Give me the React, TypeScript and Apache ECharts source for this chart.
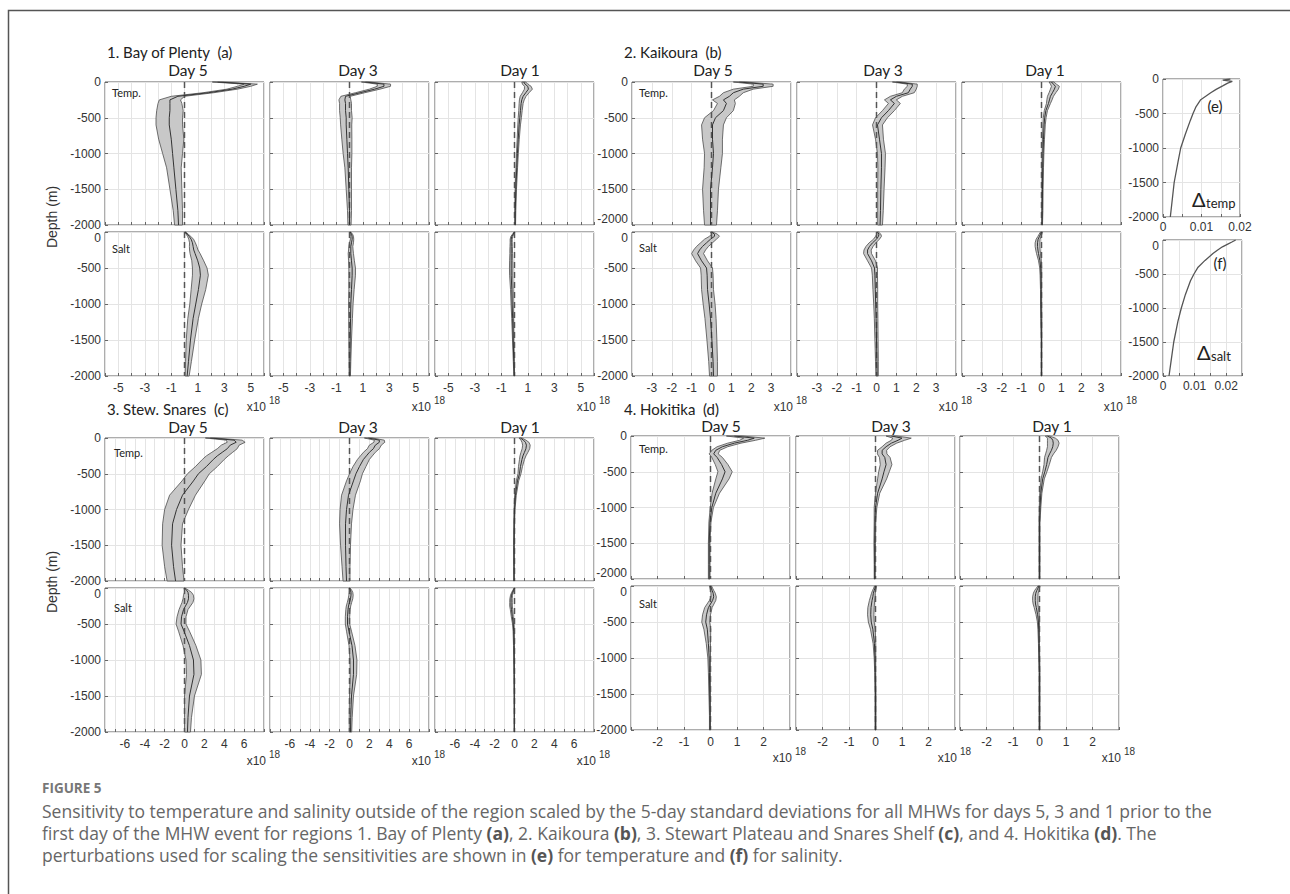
import React, { useEffect, useRef } from 'react';
import * as echarts from 'echarts';

// ---------- data ----------
const DEPTH = [0, -30, -60, -100, -150, -200, -250, -300, -400, -500, -600, -800, -1000, -1200, -1500, -1800, -2000];
const DEPTH_TICKS = [0, -500, -1000, -1500, -2000];

// Region 1: Bay of Plenty
const R1_TEMP_D5_MEAN = [2.5, 5.0, 4.5, 3.6, 1.8, -0.5, -1.1, -1.1, -1.1, -1.15, -1.15, -1.0, -0.9, -0.8, -0.65, -0.5, -0.45];
const R1_TEMP_D5_SPREAD = [0.4, 0.5, 0.5, 0.4, 0.4, 0.5, 0.8, 0.9, 1.0, 1.0, 1.0, 0.95, 0.75, 0.55, 0.45, 0.35, 0.3];
const R1_TEMP_D3_MEAN = [1.2, 2.6, 2.6, 1.9, 0.8, -0.3, -0.35, -0.3, -0.3, -0.25, -0.25, -0.2, -0.15, -0.1, -0.05, 0, 0];
const R1_TEMP_D3_SPREAD = [0.3, 0.5, 0.5, 0.4, 0.35, 0.35, 0.45, 0.45, 0.45, 0.45, 0.42, 0.38, 0.33, 0.25, 0.2, 0.15, 0.12];
const R1_TEMP_D1_MEAN = [0.7, 0.8, 1.0, 1.05, 0.85, 0.65, 0.55, 0.5, 0.45, 0.4, 0.35, 0.28, 0.22, 0.17, 0.1, 0.06, 0.05];
const R1_TEMP_D1_SPREAD = [0.15, 0.2, 0.25, 0.3, 0.25, 0.22, 0.18, 0.15, 0.13, 0.12, 0.1, 0.08, 0.07, 0.06, 0.05, 0.04, 0.03];
const R1_SALT_D5_MEAN = [0.05, 0.2, 0.35, 0.5, 0.6, 0.65, 0.7, 0.8, 1.0, 1.15, 1.2, 1.05, 0.85, 0.65, 0.45, 0.3, 0.2];
const R1_SALT_D5_SPREAD = [0.05, 0.08, 0.12, 0.18, 0.22, 0.28, 0.32, 0.38, 0.45, 0.55, 0.6, 0.55, 0.45, 0.4, 0.32, 0.22, 0.15];
const R1_SALT_D3_MEAN = [0.05, 0.15, 0.2, 0.2, 0.15, 0.1, 0.1, 0.1, 0.15, 0.2, 0.2, 0.15, 0.1, 0.08, 0.05, 0.03, 0.02];
const R1_SALT_D3_SPREAD = [0.05, 0.08, 0.1, 0.12, 0.15, 0.15, 0.17, 0.2, 0.22, 0.25, 0.25, 0.2, 0.17, 0.14, 0.1, 0.07, 0.05];
const R1_SALT_D1_MEAN = [0, -0.1, -0.2, -0.25, -0.25, -0.25, -0.25, -0.25, -0.25, -0.25, -0.25, -0.2, -0.18, -0.14, -0.1, -0.05, -0.02];
const R1_SALT_D1_SPREAD = [0.03, 0.05, 0.07, 0.08, 0.08, 0.09, 0.1, 0.1, 0.12, 0.13, 0.12, 0.1, 0.08, 0.07, 0.05, 0.04, 0.03];

// Region 2: Kaikoura
const R2_TEMP_D5_MEAN = [1.4, 2.6, 2.6, 1.6, 1.1, 0.9, 0.6, 0.75, 0.6, 0.2, 0.05, 0.05, 0.1, 0.05, -0.05, -0.05, -0.05];
const R2_TEMP_D5_SPREAD = [0.3, 0.5, 0.5, 0.5, 0.5, 0.5, 0.55, 0.45, 0.5, 0.55, 0.55, 0.5, 0.45, 0.42, 0.4, 0.35, 0.3];
const R2_TEMP_D3_MEAN = [1.0, 1.8, 1.8, 1.7, 1.6, 1.0, 0.7, 0.9, 0.6, 0.25, 0.05, 0.15, 0.25, 0.25, 0.22, 0.2, 0.18];
const R2_TEMP_D3_SPREAD = [0.2, 0.25, 0.25, 0.3, 0.3, 0.3, 0.3, 0.3, 0.3, 0.3, 0.25, 0.2, 0.2, 0.18, 0.16, 0.14, 0.12];
const R2_TEMP_D1_MEAN = [0.5, 0.6, 0.7, 0.65, 0.55, 0.45, 0.4, 0.35, 0.22, 0.16, 0.13, 0.1, 0.08, 0.06, 0.05, 0.04, 0.03];
const R2_TEMP_D1_SPREAD = [0.12, 0.15, 0.2, 0.2, 0.17, 0.15, 0.13, 0.1, 0.08, 0.07, 0.06, 0.05, 0.04, 0.04, 0.03, 0.03, 0.02];
const R2_SALT_D5_MEAN = [0, 0.15, 0.15, -0.05, -0.25, -0.45, -0.6, -0.7, -0.5, -0.25, -0.22, -0.2, -0.12, -0.05, 0.02, 0.08, 0.1];
const R2_SALT_D5_SPREAD = [0.05, 0.15, 0.25, 0.3, 0.3, 0.3, 0.3, 0.3, 0.3, 0.3, 0.3, 0.3, 0.3, 0.28, 0.25, 0.22, 0.2];
const R2_SALT_D3_MEAN = [0.05, 0.12, 0.1, 0, -0.2, -0.35, -0.45, -0.45, -0.25, -0.1, -0.08, -0.06, -0.04, -0.02, 0, 0.02, 0.03];
const R2_SALT_D3_SPREAD = [0.05, 0.1, 0.15, 0.15, 0.17, 0.18, 0.18, 0.2, 0.2, 0.15, 0.13, 0.12, 0.1, 0.09, 0.08, 0.07, 0.06];
const R2_SALT_D1_MEAN = [0, -0.05, -0.1, -0.17, -0.2, -0.2, -0.18, -0.15, -0.08, -0.04, -0.03, -0.02, -0.02, -0.01, 0, 0, 0];
const R2_SALT_D1_SPREAD = [0.05, 0.07, 0.08, 0.1, 0.12, 0.12, 0.11, 0.1, 0.07, 0.05, 0.04, 0.03, 0.03, 0.03, 0.02, 0.02, 0.02];

// Region 3: Stewart Plateau and Snares Shelf
const R3_TEMP_D5_MEAN = [2.6, 5.0, 5.2, 4.6, 4.3, 3.8, 3.3, 2.9, 2.2, 1.4, 0.9, -0.2, -0.8, -1.2, -1.3, -1.1, -0.9];
const R3_TEMP_D5_SPREAD = [0.5, 0.8, 0.9, 0.9, 1.0, 1.05, 1.1, 1.1, 1.1, 1.1, 1.15, 1.3, 1.2, 1.0, 0.95, 0.9, 0.85];
const R3_TEMP_D3_MEAN = [1.9, 3.0, 3.0, 2.6, 2.4, 2.0, 1.7, 1.4, 1.0, 0.65, 0.4, -0.1, -0.3, -0.4, -0.4, -0.35, -0.3];
const R3_TEMP_D3_SPREAD = [0.4, 0.5, 0.55, 0.6, 0.6, 0.6, 0.6, 0.6, 0.65, 0.65, 0.7, 0.7, 0.65, 0.6, 0.5, 0.4, 0.35];
const R3_TEMP_D1_MEAN = [0.6, 0.9, 1.1, 1.2, 1.15, 1.0, 0.85, 0.75, 0.6, 0.5, 0.3, 0.1, 0, -0.03, -0.05, -0.05, -0.05];
const R3_TEMP_D1_SPREAD = [0.15, 0.25, 0.35, 0.38, 0.38, 0.35, 0.3, 0.25, 0.2, 0.15, 0.12, 0.08, 0.05, 0.04, 0.04, 0.03, 0.03];
const R3_SALT_D5_MEAN = [0, 0.2, 0.35, 0.4, 0.4, 0.3, 0.1, -0.1, -0.3, -0.35, -0.05, 0.5, 0.9, 0.95, 0.5, 0.35, 0.3];
const R3_SALT_D5_SPREAD = [0.05, 0.2, 0.35, 0.5, 0.55, 0.55, 0.5, 0.45, 0.45, 0.5, 0.55, 0.65, 0.75, 0.75, 0.5, 0.35, 0.3];
const R3_SALT_D3_MEAN = [0, 0.1, 0.15, 0.15, 0.1, 0, -0.1, -0.15, -0.2, -0.2, -0.05, 0.25, 0.4, 0.4, 0.2, 0.12, 0.1];
const R3_SALT_D3_SPREAD = [0.05, 0.12, 0.18, 0.22, 0.23, 0.22, 0.22, 0.22, 0.22, 0.22, 0.25, 0.3, 0.35, 0.32, 0.2, 0.15, 0.12];
const R3_SALT_D1_MEAN = [0, -0.1, -0.2, -0.3, -0.35, -0.35, -0.35, -0.3, -0.22, -0.12, -0.08, -0.05, -0.04, -0.03, -0.02, -0.02, -0.02];
const R3_SALT_D1_SPREAD = [0.04, 0.06, 0.08, 0.1, 0.12, 0.13, 0.13, 0.12, 0.1, 0.08, 0.06, 0.05, 0.04, 0.03, 0.03, 0.02, 0.02];

// Region 4: Hokitika
const R4_TEMP_D5_MEAN = [0.9, 1.65, 1.4, 0.9, 0.45, 0.2, 0.12, 0.25, 0.42, 0.55, 0.45, 0.2, 0.05, -0.02, -0.05, -0.05, -0.05];
const R4_TEMP_D5_SPREAD = [0.3, 0.4, 0.3, 0.25, 0.2, 0.15, 0.17, 0.2, 0.24, 0.27, 0.25, 0.14, 0.06, 0.04, 0.03, 0.03, 0.03];
const R4_TEMP_D3_MEAN = [0.6, 1.0, 0.85, 0.6, 0.4, 0.25, 0.25, 0.35, 0.4, 0.32, 0.25, 0.08, 0, -0.02, -0.03, -0.03, -0.03];
const R4_TEMP_D3_SPREAD = [0.2, 0.35, 0.25, 0.2, 0.15, 0.17, 0.18, 0.2, 0.22, 0.2, 0.17, 0.08, 0.05, 0.03, 0.03, 0.02, 0.02];
const R4_TEMP_D1_MEAN = [0.3, 0.45, 0.5, 0.52, 0.5, 0.45, 0.38, 0.32, 0.27, 0.2, 0.12, 0.05, 0.02, 0, 0, 0, 0];
const R4_TEMP_D1_SPREAD = [0.08, 0.15, 0.2, 0.22, 0.2, 0.18, 0.15, 0.13, 0.1, 0.08, 0.06, 0.04, 0.03, 0.02, 0.02, 0.02, 0.02];
const R4_SALT_D5_MEAN = [0, 0.03, 0.06, 0.1, 0.12, 0.08, 0, -0.08, -0.15, -0.18, -0.12, -0.08, -0.05, -0.04, -0.03, -0.02, -0.02];
const R4_SALT_D5_SPREAD = [0.04, 0.05, 0.06, 0.08, 0.1, 0.12, 0.13, 0.14, 0.15, 0.15, 0.13, 0.08, 0.05, 0.04, 0.03, 0.02, 0.02];
const R4_SALT_D3_MEAN = [0, -0.02, -0.05, -0.08, -0.1, -0.13, -0.15, -0.17, -0.18, -0.16, -0.1, -0.04, -0.02, -0.01, 0, 0, 0];
const R4_SALT_D3_SPREAD = [0.04, 0.05, 0.06, 0.07, 0.09, 0.1, 0.11, 0.12, 0.12, 0.11, 0.09, 0.05, 0.03, 0.02, 0.02, 0.02, 0.02];
const R4_SALT_D1_MEAN = [-0.02, -0.06, -0.1, -0.14, -0.16, -0.16, -0.15, -0.12, -0.07, -0.04, -0.03, -0.02, -0.01, 0, 0, 0, 0];
const R4_SALT_D1_SPREAD = [0.04, 0.06, 0.08, 0.09, 0.1, 0.1, 0.09, 0.08, 0.06, 0.04, 0.03, 0.02, 0.02, 0.02, 0.02, 0.02, 0.02];

// Perturbation profiles (e) temperature, (f) salinity
const E_DEPTH = [0, -15, -35, -60, -100, -150, -200, -300, -400, -500, -600, -800, -1000, -1200, -1500, -1800, -2000];
const E_TEMP = [0.0175, 0.0155, 0.018, 0.0168, 0.0155, 0.0138, 0.0124, 0.0098, 0.0086, 0.0078, 0.0071, 0.0058, 0.0046, 0.0039, 0.0029, 0.0023, 0.0019];
const F_DEPTH = [0, -30, -60, -100, -150, -200, -300, -400, -500, -600, -800, -1000, -1200, -1500, -1800, -2000];
const F_SALT = [0.023, 0.0218, 0.0205, 0.0188, 0.0172, 0.0158, 0.0133, 0.0111, 0.0098, 0.0087, 0.0071, 0.0058, 0.0047, 0.0034, 0.0025, 0.0019];
const E_XLABELS = [0, 0.01, 0.02];

const DAYS = ['Day 5', 'Day 3', 'Day 1'];
const REGION_TITLES = ['1. Bay of Plenty  (a)', '2. Kaikoura  (b)', '3. Stew. Snares  (c)', '4. Hokitika  (d)'];
const REGION_XRANGE = [[-6, 6], [-4, 4], [-8, 8], [-3, 3]];
const REGION_XLABELS = [[-5, -3, -1, 1, 3, 5], [-3, -2, -1, 0, 1, 2, 3], [-6, -4, -2, 0, 2, 4, 6], [-2, -1, 0, 1, 2]];

const REGION_DATA = [
  {
    temp: [[R1_TEMP_D5_MEAN, R1_TEMP_D5_SPREAD], [R1_TEMP_D3_MEAN, R1_TEMP_D3_SPREAD], [R1_TEMP_D1_MEAN, R1_TEMP_D1_SPREAD]],
    salt: [[R1_SALT_D5_MEAN, R1_SALT_D5_SPREAD], [R1_SALT_D3_MEAN, R1_SALT_D3_SPREAD], [R1_SALT_D1_MEAN, R1_SALT_D1_SPREAD]],
  },
  {
    temp: [[R2_TEMP_D5_MEAN, R2_TEMP_D5_SPREAD], [R2_TEMP_D3_MEAN, R2_TEMP_D3_SPREAD], [R2_TEMP_D1_MEAN, R2_TEMP_D1_SPREAD]],
    salt: [[R2_SALT_D5_MEAN, R2_SALT_D5_SPREAD], [R2_SALT_D3_MEAN, R2_SALT_D3_SPREAD], [R2_SALT_D1_MEAN, R2_SALT_D1_SPREAD]],
  },
  {
    temp: [[R3_TEMP_D5_MEAN, R3_TEMP_D5_SPREAD], [R3_TEMP_D3_MEAN, R3_TEMP_D3_SPREAD], [R3_TEMP_D1_MEAN, R3_TEMP_D1_SPREAD]],
    salt: [[R3_SALT_D5_MEAN, R3_SALT_D5_SPREAD], [R3_SALT_D3_MEAN, R3_SALT_D3_SPREAD], [R3_SALT_D1_MEAN, R3_SALT_D1_SPREAD]],
  },
  {
    temp: [[R4_TEMP_D5_MEAN, R4_TEMP_D5_SPREAD], [R4_TEMP_D3_MEAN, R4_TEMP_D3_SPREAD], [R4_TEMP_D1_MEAN, R4_TEMP_D1_SPREAD]],
    salt: [[R4_SALT_D5_MEAN, R4_SALT_D5_SPREAD], [R4_SALT_D3_MEAN, R4_SALT_D3_SPREAD], [R4_SALT_D1_MEAN, R4_SALT_D1_SPREAD]],
  },
];

// ---------- layout (pixels) ----------
const LAYOUT = [
  { left: [105, 270, 435], tempTop: 82, saltTop: 232, titleX: 107, titleY: 52, dayY: 70, dayX: [188, 358, 520], labelX: 112, tempLblY: 92, saltLblY: 248, expY: 407, tempMin: 'middle', saltMax: 'top' },
  { left: [632, 797, 962], tempTop: 82, saltTop: 232, titleX: 624, titleY: 52, dayY: 70, dayX: [713, 883, 1045], labelX: 639, tempLblY: 92, saltLblY: 247, expY: 407, tempMin: 'bottom', saltMax: 'top' },
  { left: [105, 270, 435], tempTop: 438, saltTop: 588, titleX: 107, titleY: 409, dayY: 427, dayX: [188, 358, 520], labelX: 114, tempLblY: 452, saltLblY: 607, expY: 761, tempMin: 'middle', saltMax: 'top' },
  { left: [631, 796, 960], tempTop: 436, saltTop: 586, titleX: 624, titleY: 409, dayY: 426, dayX: [721, 891, 1052], labelX: 639, tempLblY: 448, saltLblY: 603, expY: 758, tempMin: 'bottom', saltMax: 'top' },
];
const PW = 159;
const TH = 143;
const SH = 144;

const TICK_FONT = 'Liberation Sans';
const TITLE_FONT = 'Lato';
const CAP_FONT = 'Open Sans';

function pickLabel(list: number[], v: number) {
  const m = list.find((l) => Math.abs(l - v) < 1e-9);
  return m === undefined ? '' : String(m);
}

function buildOption() {
  const grids: any[] = [];
  const xAxes: any[] = [];
  const yAxes: any[] = [];
  const series: any[] = [];
  const graphics: any[] = [];

  const txt = (x: number, y: number, text: string, o: any = {}) => {
    graphics.push({
      type: 'text', x, y, rotation: o.rotation || 0, silent: true, z: 100,
      style: {
        text, align: o.align || 'left', verticalAlign: o.va || 'middle',
        fontSize: o.size || 12, fontFamily: o.font || TICK_FONT, fontWeight: o.weight || 'normal',
        fill: o.color || '#333', rich: o.rich, lineHeight: o.lineHeight,
      },
    });
  };

  const addGrid = (left: number, top: number, width: number, height: number) => {
    grids.push({ left, top, width, height, show: true, borderColor: '#5a5a5a', borderWidth: 1, backgroundColor: '#fff', outerBoundsMode: 'none', containLabel: false });
    return grids.length - 1;
  };

  const yAxisFor = (gi: number, showLabel: boolean, minAlign: string, maxAlign: string) => ({
    gridIndex: gi, type: 'value', min: -2000, max: 0, interval: 500, position: 'left',
    axisLine: { show: false, onZero: false },
    axisTick: { show: true, inside: true, length: 3, lineStyle: { color: '#666' } },
    splitLine: { show: true, lineStyle: { color: '#e4e4e4', width: 1 } },
    axisLabel: {
      show: showLabel, margin: 4, fontSize: 12, fontFamily: TICK_FONT, color: '#333',
      verticalAlignMinLabel: minAlign, verticalAlignMaxLabel: maxAlign,
      formatter: (val: number) => pickLabel(DEPTH_TICKS, val),
    },
  });

  REGION_DATA.forEach((reg, r) => {
    const L = LAYOUT[r];
    const [xMin, xMax] = REGION_XRANGE[r];
    const xLabels = REGION_XLABELS[r];
    (['temp', 'salt'] as const).forEach((v, vi) => {
      for (let d = 0; d < 3; d++) {
        const top = vi === 0 ? L.tempTop : L.saltTop;
        const h = vi === 0 ? TH : SH;
        const gi = addGrid(L.left[d], top, PW, h);
        xAxes.push({
          gridIndex: gi, type: 'value', min: xMin, max: xMax, interval: 1, position: 'bottom',
          axisLine: { show: false, onZero: false },
          axisTick: { show: true, inside: true, length: 3, lineStyle: { color: '#666' } },
          splitLine: { show: true, lineStyle: { color: '#e4e4e4', width: 1 } },
          axisLabel: {
            show: vi === 1, margin: 6, fontSize: 12, fontFamily: TICK_FONT, color: '#333',
            formatter: (val: number) => pickLabel(xLabels, val),
          },
        });
        yAxes.push(yAxisFor(gi, d === 0, vi === 0 ? L.tempMin : 'middle', vi === 1 ? L.saltMax : 'middle'));
        const [mean, spread] = (reg as any)[v][d];
        series.push({
          type: 'custom', coordinateSystem: 'cartesian2d', xAxisIndex: gi, yAxisIndex: gi, silent: true, z: 2,
          data: [[0, 0]],
          renderItem: (_p: any, api: any) => {
            const leftPts = DEPTH.map((dep, i) => api.coord([mean[i] - spread[i], dep]));
            const rightPts = DEPTH.map((dep, i) => api.coord([mean[i] + spread[i], dep])).reverse();
            return { type: 'polygon', shape: { points: leftPts.concat(rightPts) }, style: { fill: '#c8c8c8', stroke: '#4d4d4d', lineWidth: 0.8 } };
          },
        });
        series.push({
          type: 'line', xAxisIndex: gi, yAxisIndex: gi, silent: true, z: 3, symbol: 'none',
          data: [[0, 0], [0, -2000]],
          lineStyle: { color: '#555', width: 1.5, type: [6, 4] },
        });
        series.push({
          type: 'line', xAxisIndex: gi, yAxisIndex: gi, silent: true, z: 4, symbol: 'none',
          data: DEPTH.map((dep, i) => [mean[i], dep]),
          lineStyle: { color: '#333', width: 1 },
        });
        if (vi === 1) {
          const right = L.left[d] + PW;
          txt(right + 2, L.expY, 'x10', { align: 'right', size: 12, color: '#333' });
          txt(right + 5, L.expY - 7, '18', { size: 10, color: '#333' });
        }
      }
    });
    txt(L.titleX, L.titleY, REGION_TITLES[r], { font: TITLE_FONT, size: 15, color: '#222' });
    for (let d = 0; d < 3; d++) txt(L.dayX[d], L.dayY, DAYS[d], { font: TITLE_FONT, size: 15.5, color: '#222', align: 'center' });
    txt(L.labelX, L.tempLblY, 'Temp.', { font: TITLE_FONT, size: 11, color: '#222' });
    txt(L.labelX, L.saltLblY, 'Salt', { font: TITLE_FONT, size: 11, color: '#222' });
  });

  // (e) and (f) panels
  const pert = [
    { top: 79, height: 138, width: 77, xMax: 0.02, depth: E_DEPTH, vals: E_TEMP, maxAlign: 'middle' },
    { top: 240, height: 136, width: 79, xMax: 0.025, depth: F_DEPTH, vals: F_SALT, maxAlign: 'top' },
  ];
  pert.forEach((p) => {
    const gi = addGrid(1163, p.top, p.width, p.height);
    xAxes.push({
      gridIndex: gi, type: 'value', min: 0, max: p.xMax, interval: 0.005, position: 'bottom',
      axisLine: { show: false, onZero: false },
      axisTick: { show: true, inside: true, length: 3, lineStyle: { color: '#666' } },
      splitLine: { show: true, lineStyle: { color: '#e4e4e4' } },
      axisLabel: { show: true, margin: 4, fontSize: 12, fontFamily: TICK_FONT, color: '#333', formatter: (val: number) => pickLabel(E_XLABELS, val), showMaxLabel: true },
    });
    yAxes.push(yAxisFor(gi, true, 'middle', p.maxAlign));
    series.push({
      type: 'line', xAxisIndex: gi, yAxisIndex: gi, silent: true, symbol: 'none', z: 4,
      data: p.depth.map((dep, i) => [p.vals[i], dep]),
      lineStyle: { color: '#555', width: 1.3 },
    });
  });

  txt(1215, 106, '(e)', { font: TITLE_FONT, size: 15, color: '#222', align: 'center' });
  txt(1220, 263, '(f)', { font: TITLE_FONT, size: 15, color: '#222', align: 'center' });
  txt(1192, 199, 'Δ', { font: TITLE_FONT, size: 20, color: '#222' });
  txt(1206, 203, 'temp', { font: TITLE_FONT, size: 13, color: '#222' });
  txt(1197, 352, 'Δ', { font: TITLE_FONT, size: 20, color: '#222' });
  txt(1211, 356, 'salt', { font: TITLE_FONT, size: 13, color: '#222' });

  // Depth labels
  txt(52, 217, 'Depth (m)', { size: 14, color: '#333', align: 'center', rotation: Math.PI / 2 });
  txt(52, 582, 'Depth (m)', { size: 14, color: '#333', align: 'center', rotation: Math.PI / 2 });

  // frame
  graphics.push({ type: 'rect', silent: true, z: 90, shape: { x: 8.5, y: 10.5, width: 1400, height: 1000 }, style: { fill: 'none', stroke: '#555', lineWidth: 1.5 } });

  // caption
  const CS = 17.5;
  const capRich = { b: { fontWeight: 'bold', fontSize: CS, fontFamily: CAP_FONT, fill: '#555', lineHeight: 20 } };
  txt(42, 788, 'FIGURE 5', { font: CAP_FONT, size: 13.5, weight: 'bold', color: '#777' });
  txt(42, 811, 'Sensitivity to temperature and salinity outside of the region scaled by the 5-day standard deviations for all MHWs for days 5, 3 and 1 prior to the', { font: CAP_FONT, size: CS, color: '#666', lineHeight: 20 });
  txt(42, 833, 'first day of the MHW event for regions 1. Bay of Plenty {b|(a)}, 2. Kaikoura {b|(b)}, 3. Stewart Plateau and Snares Shelf {b|(c)}, and 4. Hokitika {b|(d)}. The', { font: CAP_FONT, size: CS, color: '#666', rich: capRich, lineHeight: 20 });
  txt(42, 855, 'perturbations used for scaling the sensitivities are shown in {b|(e)} for temperature and {b|(f)} for salinity.', { font: CAP_FONT, size: CS, color: '#666', rich: capRich, lineHeight: 20 });

  return {
    animation: false,
    backgroundColor: '#fff',
    grid: grids,
    xAxis: xAxes,
    yAxis: yAxes,
    series,
    graphic: graphics,
  };
}

export default function App() {
  const ref = useRef<HTMLDivElement>(null);
  useEffect(() => {
    if (!ref.current) return;
    const chart = echarts.init(ref.current, null, { renderer: 'svg' });
    chart.setOption(buildOption() as any);
    return () => chart.dispose();
  }, []);
  return <div ref={ref} style={{ position: 'absolute', left: 0, top: 0, width: 1290, height: 894 }} />;
}
